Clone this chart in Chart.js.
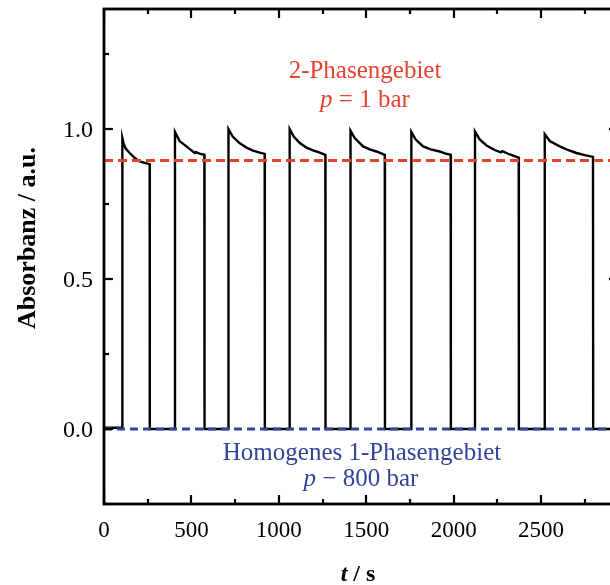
<!DOCTYPE html>
<html>
<head>
<meta charset="utf-8">
<script src="https://cdn.jsdelivr.net/npm/chart.js@4.4.1/dist/chart.umd.min.js"></script>
<style>
  html, body { margin: 0; padding: 0; background: #fff; overflow: hidden; }
  #wrap { position: relative; width: 625px; height: 585px; }
</style>
</head>
<body>
<div id="wrap"><canvas id="c"></canvas></div>
<script>
// Absorbance trace during pressure cycling (time in s)
const timeS = [
  0, 103, 105, 113, 124, 147, 176, 204, 233, 261, 262,
  405, 406, 433, 471, 519, 525, 547, 574, 575,
  710, 712, 736, 775, 815, 852, 891, 919, 920,
  1061, 1062, 1085, 1120, 1158, 1196, 1234, 1266, 1267,
  1409, 1410, 1434, 1482, 1520, 1558, 1606, 1607,
  1757, 1758, 1783, 1825, 1869, 1920, 1955, 1983, 1984,
  2121, 2122, 2149, 2188, 2235, 2270, 2278, 2321, 2372, 2373,
  2520, 2521, 2550, 2607, 2653, 2702, 2750, 2797, 2798, 2940
];
const absorbance = [
  0.004, 0.004, 0.97, 0.95, 0.935, 0.92, 0.903, 0.892, 0.887, 0.883, 0,
  0, 0.99, 0.959, 0.942, 0.92, 0.923, 0.918, 0.914, 0,
  0, 1.0, 0.975, 0.953, 0.938, 0.928, 0.921, 0.917, 0,
  0, 1.0, 0.975, 0.953, 0.938, 0.929, 0.921, 0.914, 0,
  0, 0.995, 0.97, 0.942, 0.932, 0.925, 0.914, 0,
  0, 0.99, 0.965, 0.942, 0.932, 0.925, 0.918, 0.914, 0,
  0, 0.992, 0.965, 0.945, 0.93, 0.922, 0.926, 0.915, 0.905, 0,
  0, 0.983, 0.96, 0.942, 0.93, 0.92, 0.913, 0.907, 0, 0
];

// Reference levels
const twoPhaseLevel = 0.895;
const onePhaseLevel = 0.0;

// Axis ranges and ticks
const xRange = [0, 2940];
const yRange = [-0.25, 1.4];
const xMajorTicks = [0, 500, 1000, 1500, 2000, 2500];
const xMinorTicks = [250, 750, 1250, 1750, 2250, 2750];
const yMajorTicks = [0, 0.5, 1.0];
const yMinorTicks = [-0.25, 0.25, 0.75, 1.25];
const xTickLabels = ['0', '500', '1000', '1500', '2000', '2500'];
const yTickLabels = ['0.0', '0.5', '1.0'];

const RED = '#e8412c';
const BLUE = '#33449a';
const SERIF = "'Liberation Serif', 'Times New Roman', serif";

const tracePoints = timeS.map((t, i) => ({ x: t, y: absorbance[i] }));

function drawRuns(ctx, runs, cx, y, color) {
  let total = 0;
  runs.forEach(r => { ctx.font = r.font; r.w = ctx.measureText(r.text).width; total += r.w; });
  let x = cx - total / 2;
  ctx.fillStyle = color;
  ctx.textAlign = 'left';
  ctx.textBaseline = 'alphabetic';
  runs.forEach(r => { ctx.font = r.font; ctx.fillText(r.text, x, y); x += r.w; });
}

const framePlugin = {
  id: 'frameTicksText',
  afterDraw(chart) {
    const { ctx, chartArea: a, scales: { x, y } } = chart;
    ctx.save();
    // frame
    ctx.strokeStyle = '#000';
    ctx.lineWidth = 2.8;
    ctx.strokeRect(a.left, a.top, a.right - a.left, a.bottom - a.top);
    // inward ticks on all four sides
    ctx.lineWidth = 2.2;
    const tick = (x1, y1, x2, y2) => { ctx.beginPath(); ctx.moveTo(x1, y1); ctx.lineTo(x2, y2); ctx.stroke(); };
    const xt = (vals, len) => vals.forEach(v => {
      const px = Math.round(x.getPixelForValue(v));
      tick(px, a.bottom, px, a.bottom - len);
      tick(px, a.top, px, a.top + len);
    });
    const yt = (vals, len) => vals.forEach(v => {
      const py = Math.round(y.getPixelForValue(v));
      tick(a.left, py, a.left + len, py);
      tick(a.right, py, a.right - len, py);
    });
    xt(xMajorTicks, 9); xt(xMinorTicks, 5);
    yt(yMajorTicks, 9); yt(yMinorTicks, 5);

    // tick labels
    ctx.fillStyle = '#000';
    ctx.font = '23px ' + SERIF;
    ctx.textBaseline = 'alphabetic';
    ctx.textAlign = 'center';
    xMajorTicks.forEach((v, i) => ctx.fillText(xTickLabels[i], x.getPixelForValue(v), a.bottom + 33));
    ctx.font = '24px ' + SERIF;
    ctx.textAlign = 'right';
    yMajorTicks.forEach((v, i) => ctx.fillText(yTickLabels[i], a.left - 11, y.getPixelForValue(v) + 8));

    // region labels
    const cx = (a.left + a.right) / 2;
    const reg = '25px ' + SERIF, ital = 'italic 25px ' + SERIF;
    drawRuns(ctx, [{ text: '2-Phasengebiet', font: reg }], cx + 4, 78, RED);
    drawRuns(ctx, [{ text: 'p', font: ital }, { text: ' = 1 bar', font: reg }], cx + 4, 107, RED);
    drawRuns(ctx, [{ text: 'Homogenes 1-Phasengebiet', font: reg }], cx + 1, 460, BLUE);
    drawRuns(ctx, [{ text: 'p', font: ital }, { text: ' \u2212 800 bar', font: reg }], cx, 486, BLUE);

    // axis titles
    drawRuns(ctx, [{ text: 't', font: 'italic bold 24px ' + SERIF }, { text: ' / s', font: 'bold 24px ' + SERIF }], 358, 581, '#000');
    ctx.save();
    ctx.translate(35, 238);
    ctx.rotate(-Math.PI / 2);
    drawRuns(ctx, [{ text: 'Absorbanz / a.u.', font: 'bold 26px ' + SERIF }], 0, 0, '#000');
    ctx.restore();
    ctx.restore();
  }
};

new Chart(document.getElementById('c'), {
  type: 'line',
  data: {
    datasets: [
      {
        data: [{ x: xRange[0], y: twoPhaseLevel }, { x: xRange[1], y: twoPhaseLevel }],
        borderColor: RED, borderWidth: 3, borderDash: [9, 5], pointRadius: 0, order: 0
      },
      {
        data: [{ x: xRange[0], y: onePhaseLevel }, { x: xRange[1], y: onePhaseLevel }],
        borderColor: BLUE, borderWidth: 2.8, borderDash: [8, 5], pointRadius: 0, order: 0
      },
      {
        data: tracePoints,
        borderColor: '#000', borderWidth: 2.4, pointRadius: 0, tension: 0, order: 1
      }
    ]
  },
  options: {
    responsive: true,
    maintainAspectRatio: false,
    animation: false,
    events: [],
    layout: { padding: { top: 9, right: 7, left: 0, bottom: 0 } },
    plugins: { legend: { display: false }, tooltip: { enabled: false } },
    scales: {
      x: {
        type: 'linear', min: xRange[0], max: xRange[1],
        grid: { display: false, drawTicks: false },
        border: { display: false },
        ticks: { display: false },
        afterFit: s => { s.height = 81; }
      },
      y: {
        type: 'linear', min: yRange[0], max: yRange[1],
        grid: { display: false, drawTicks: false },
        border: { display: false },
        ticks: { display: false },
        afterFit: s => { s.width = 104; }
      }
    }
  },
  plugins: [framePlugin]
});
</script>
</body>
</html>
